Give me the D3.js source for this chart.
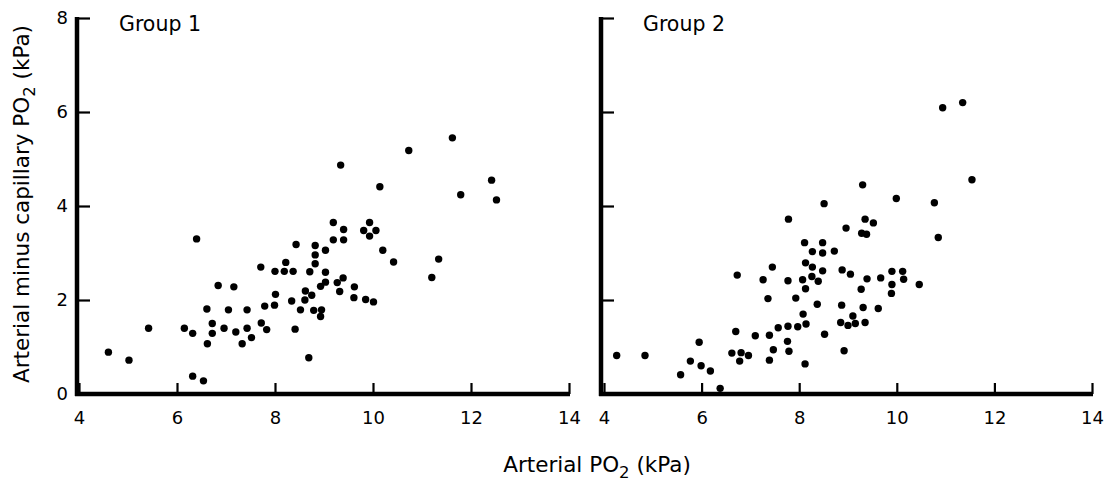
<!DOCTYPE html>
<html>
<head>
  <title>Arterial minus capillary PO2</title>
  <script src="https://d3js.org/d3.v7.min.js"></script>
  <style>
    body { margin: 0; background: #fff; }
    text { font-family: "DejaVu Sans", sans-serif; fill: #000; }
  </style>
</head>
<body>
  <svg id="chart" width="1112" height="481"></svg>

  <script>
    // Group 1: arterial PO2 (kPa), arterial minus capillary PO2 (kPa)
    const group1X = [4.6, 5.02, 5.42, 6.40, 6.15, 6.32, 6.32, 6.54, 6.61, 6.72, 6.72, 6.62, 6.84, 6.96, 7.05, 7.16, 7.20, 7.33, 7.43, 7.43,
      7.52, 7.71, 7.72, 7.79, 7.83, 7.99, 8.01, 8.00, 8.19, 8.22, 8.37, 8.34, 8.43, 8.41, 8.52, 8.61, 8.62, 8.69, 8.71,
      11.62, 10.73, 9.34, 10.14, 12.42, 11.79, 12.52, 9.19, 9.40, 9.40, 9.19, 9.93, 9.81, 10.06, 9.93, 10.20, 10.42, 11.34, 11.20,
      8.82, 9.03, 8.82, 8.82, 9.03, 9.03, 8.93, 9.27, 9.39, 9.32, 9.62, 9.61, 9.85, 10.01, 8.75, 8.79, 8.95, 8.93];
    const group1Y = [0.89, 0.72, 1.40, 3.30, 1.40, 1.29, 0.38, 0.28, 1.81, 1.50, 1.29, 1.07, 2.31, 1.40, 1.79, 2.28, 1.32, 1.07, 1.79, 1.40,
      1.20, 2.70, 1.51, 1.87, 1.37, 1.89, 2.12, 2.61, 2.61, 2.80, 2.61, 1.98, 3.18, 1.38, 1.79, 2.00, 2.19, 0.77, 2.60,
      5.45, 5.18, 4.87, 4.41, 4.55, 4.24, 4.13, 3.65, 3.50, 3.28, 3.28, 3.65, 3.48, 3.48, 3.36, 3.06, 2.81, 2.87, 2.48,
      3.16, 3.06, 2.96, 2.77, 2.59, 2.38, 2.29, 2.37, 2.47, 2.18, 2.28, 2.05, 2.01, 1.96, 2.10, 1.78, 1.79, 1.65];

    // Group 2
    const group2X = [4.26, 4.84, 5.95, 5.77, 5.99, 6.18, 5.57, 6.38, 6.73, 6.70, 6.62, 6.81, 6.78, 6.96, 7.10, 7.26, 7.45, 7.36, 7.39, 7.47,
      7.39, 7.57, 7.77, 7.76, 7.79, 7.77, 7.78, 7.93, 7.97, 8.08, 8.14, 8.12, 8.07, 8.13, 8.13, 8.11, 8.27, 8.27, 8.26, 8.39,
      8.37, 8.48, 8.48, 8.48, 8.51, 8.52, 8.72,
      10.94, 11.35, 11.54, 10.77, 10.85, 9.99, 9.30, 9.35, 9.52, 8.96, 9.28, 9.38, 8.88, 9.05, 9.39, 9.27, 9.67, 9.90,
      10.12, 10.14, 9.90, 10.46, 9.89, 8.87, 9.31, 9.62, 9.10, 8.85, 9.00, 9.15, 9.35, 8.92];
    const group2Y = [0.82, 0.82, 1.10, 0.70, 0.60, 0.49, 0.41, 0.12, 2.53, 1.33, 0.87, 0.88, 0.70, 0.82, 1.24, 2.43, 2.70, 2.03, 1.25, 0.94,
      0.72, 1.41, 1.44, 1.12, 0.91, 2.41, 3.72, 2.04, 1.43, 1.70, 1.49, 0.64, 2.43, 2.24, 2.79, 3.22, 3.03, 2.70, 2.50, 2.40,
      1.91, 3.22, 3.00, 2.62, 4.05, 1.27, 3.04,
      6.09, 6.20, 4.56, 4.07, 3.33, 4.16, 4.45, 3.72, 3.64, 3.53, 3.42, 3.40, 2.64, 2.55, 2.45, 2.23, 2.47, 2.61,
      2.61, 2.44, 2.33, 2.33, 2.14, 1.89, 1.84, 1.82, 1.66, 1.52, 1.46, 1.50, 1.52, 0.92];

    const xTicks = [4, 6, 8, 10, 12, 14];
    const yTicks = [0, 2, 4, 6, 8];

    const svg = d3.select("#chart");
    const y = d3.scaleLinear().domain([0, 8]).range([394, 18]);

    const panels = [
      { title: "Group 1", xs: group1X, ys: group1Y, range: [79, 569], axisX: 77, yLabels: true },
      { title: "Group 2", xs: group2X, ys: group2Y, range: [604, 1092], axisX: 601, yLabels: false }
    ];

    panels.forEach(p => {
      const x = d3.scaleLinear().domain([4, 14]).range(p.range);
      const g = svg.append("g");

      // x axis, ticks pointing up
      const xAxis = g.append("g")
        .attr("transform", `translate(0,${y(0)})`)
        .call(d3.axisBottom(x).tickValues(xTicks).tickSizeInner(-11).tickSizeOuter(0).tickPadding(17));
      xAxis.select(".domain").remove();
      xAxis.selectAll(".tick line").attr("stroke-width", 2.2);
      xAxis.selectAll(".tick text").attr("font-size", 18);
      g.append("line")
        .attr("x1", p.axisX - 2).attr("x2", x(14) + 1)
        .attr("y1", y(0)).attr("y2", y(0))
        .attr("stroke", "#000").attr("stroke-width", 4.5);

      // y axis, ticks pointing right
      const yAxis = g.append("g")
        .attr("transform", `translate(${p.axisX},0)`)
        .call(d3.axisLeft(y).tickValues(yTicks).tickSizeInner(-13).tickSizeOuter(0).tickPadding(9));
      yAxis.select(".domain").remove();
      yAxis.selectAll(".tick line").attr("stroke-width", 2.2);
      yAxis.selectAll(".tick text").attr("font-size", 18);
      if (!p.yLabels) yAxis.selectAll(".tick text").remove();
      g.append("line")
        .attr("x1", p.axisX).attr("x2", p.axisX)
        .attr("y1", y(8) - 1).attr("y2", y(0) + 2)
        .attr("stroke", "#000").attr("stroke-width", 4.5);

      g.selectAll("circle")
        .data(p.xs.map((v, i) => [v, p.ys[i]]))
        .join("circle")
        .attr("cx", d => x(d[0]))
        .attr("cy", d => y(d[1]))
        .attr("r", 3.7)
        .attr("fill", "#000");

      g.append("text")
        .attr("x", p.axisX + 42)
        .attr("y", 31)
        .attr("font-size", 20.5)
        .text(p.title);
    });

    // y axis title
    const yt = svg.append("text")
      .attr("transform", "translate(29,204) rotate(-90)")
      .attr("text-anchor", "middle")
      .attr("font-size", 21.5);
    yt.append("tspan").text("Arterial minus capillary PO");
    yt.append("tspan").attr("dy", 6).attr("font-size", 16.5).text("2");
    yt.append("tspan").attr("dy", -6).text(" (kPa)");

    // x axis title
    const xt = svg.append("text")
      .attr("x", 597)
      .attr("y", 472)
      .attr("text-anchor", "middle")
      .attr("font-size", 21.5);
    xt.append("tspan").text("Arterial PO");
    xt.append("tspan").attr("dy", 6).attr("font-size", 16.5).text("2");
    xt.append("tspan").attr("dy", -6).text(" (kPa)");
  </script>
</body>
</html>
